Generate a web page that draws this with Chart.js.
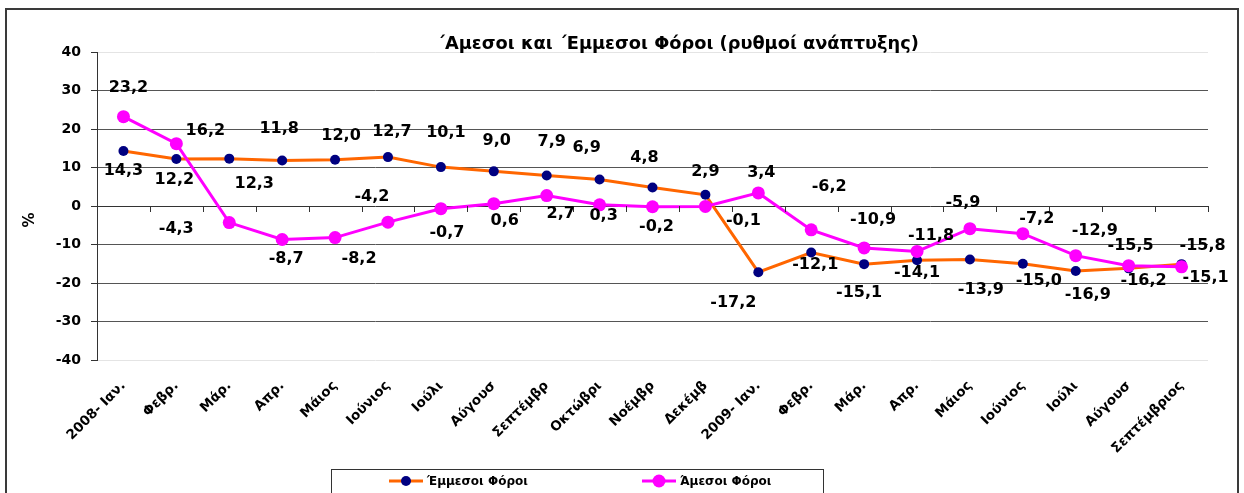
<!DOCTYPE html>
<html lang="el">
<head>
<meta charset="utf-8">
<title>Άμεσοι και Έμμεσοι Φόροι</title>
<script src="https://cdn.jsdelivr.net/npm/chart.js@4.4.1/dist/chart.umd.min.js"></script>
<style>
  html, body { margin: 0; padding: 0; background: #fff; overflow: hidden; }
  #wrap { position: absolute; left: 0; top: 0; width: 1244px; height: 493px; }
  #frame { position: absolute; left: 5px; top: 8px; width: 1230px; height: 520px; border: 2px solid #3a3a3a; pointer-events: none; }
</style>
</head>
<body>
<div id="wrap"><canvas id="taxChart"></canvas></div>
<div id="frame"></div>
<script>
// categories (x axis)
const months = ['2008- Ιαν.', 'Φεβρ.', 'Μάρ.', 'Απρ.', 'Μάιος', 'Ιούνιος', 'Ιούλι', 'Αύγουσ', 'Σεπτέμβρ', 'Οκτώβρι', 'Νοέμβρ', 'Δεκέμβ',
  '2009- Ιαν.', 'Φεβρ.', 'Μάρ.', 'Απρ.', 'Μάιος', 'Ιούνιος', 'Ιούλι', 'Αύγουσ', 'Σεπτέμβριος'];

// growth rates, %
const indirectTax = [14.3, 12.2, 12.3, 11.8, 12.0, 12.7, 10.1, 9.0, 7.9, 6.9, 4.8, 2.9,
  -17.2, -12.1, -15.1, -14.1, -13.9, -15.0, -16.9, -16.2, -15.1];
const directTax = [23.2, 16.2, -4.3, -8.7, -8.2, -4.2, -0.7, 0.6, 2.7, 0.3, -0.2, -0.1,
  3.4, -6.2, -10.9, -11.8, -5.9, -7.2, -12.9, -15.5, -15.8];

const yTicks = [-40, -30, -20, -10, 0, 10, 20, 30, 40];

// where each value label sits relative to its point (px)
const indirectLabelDx = [0, -2, 25, -3, 6, 4, 5, 3, 5, -13, -8, 0, -25, 4, -5, 0, 11, 16, 12, 15, 24];
const indirectLabelDy = [20, 21, 25, -32, -24, -25, -34, -31, -34, -32, -30, -23, 31, 12, 29, 13, 30, 17, 24, 12, 14];
const directLabelDx = [5, 29, -53, 4, 24, -16, 6, 11, 14, 4, 4, 38, 3, 18, 9, 14, -7, 14, 19, 2, 21];
const directLabelDy = [-29, -13, 6, 19, 21, -25, 24, 17, 18, 11, 20, 14, -20, -43, -28, -16, -26, -15, -25, -20, -21];

const FONT = "'DejaVu Sans', 'Verdana', sans-serif";
Chart.defaults.font.family = FONT;
Chart.defaults.color = '#000';

const fmt = v => v.toFixed(1).replace('.', ',');

const extras = {
  id: 'extras',
  afterDatasetsDraw(chart) {
    const { ctx, chartArea, scales } = chart;
    const x = scales.x, y = scales.y;
    const y0 = y.getPixelForValue(0);
    const step = (chartArea.right - chartArea.left) / months.length;

    ctx.save();
    // tick marks on the zero axis, between categories
    ctx.strokeStyle = '#333';
    ctx.lineWidth = 1;
    ctx.beginPath();
    for (let i = 0; i <= months.length; i++) {
      const px = Math.round(chartArea.left + i * step) + 0.5;
      ctx.moveTo(px, y0);
      ctx.lineTo(px, y0 + 6);
    }
    ctx.stroke();

    // value labels
    ctx.font = 'bold 16px ' + FONT;
    ctx.fillStyle = '#000';
    ctx.textAlign = 'center';
    ctx.textBaseline = 'middle';
    const sets = [[indirectTax, indirectLabelDx, indirectLabelDy], [directTax, directLabelDx, directLabelDy]];
    sets.forEach(([vals, dx, dy]) => {
      vals.forEach((v, i) => {
        ctx.fillText(fmt(v), x.getPixelForValue(i) + dx[i], y.getPixelForValue(v) + dy[i]);
      });
    });

    // title
    ctx.font = 'bold 17.8px ' + FONT;
    ctx.fillText('΄Αμεσοι και ΄Εμμεσοι Φόροι (ρυθμοί ανάπτυξης)', 678, 44);

    // y axis title
    ctx.save();
    ctx.translate(30, 220);
    ctx.rotate(-Math.PI / 2);
    ctx.font = 'bold 15px ' + FONT;
    ctx.fillText('%', 0, 0);
    ctx.restore();

    // legend
    ctx.strokeStyle = '#333';
    ctx.strokeRect(331.5, 469.5, 492, 60);
    const items = [[406, chart.data.datasets[0]], [659, chart.data.datasets[1]]];
    ctx.textAlign = 'left';
    ctx.font = 'bold 12px ' + FONT;
    items.forEach(([cx, ds]) => {
      const ly = 481;
      ctx.strokeStyle = ds.borderColor;
      ctx.lineWidth = 3;
      ctx.beginPath();
      ctx.moveTo(cx - 17, ly);
      ctx.lineTo(cx + 17, ly);
      ctx.stroke();
      ctx.fillStyle = ds.pointBackgroundColor;
      ctx.beginPath();
      ctx.arc(cx, ly, ds.pointRadius, 0, Math.PI * 2);
      ctx.fill();
      ctx.fillStyle = '#000';
      ctx.fillText(ds.label, cx + 21, ly + 1);
    });
    ctx.restore();
  }
};

new Chart(document.getElementById('taxChart'), {
  type: 'line',
  data: {
    labels: months,
    datasets: [
      {
        label: 'Έμμεσοι Φόροι',
        data: indirectTax,
        borderColor: '#FF6600',
        borderWidth: 3,
        pointBackgroundColor: '#000080',
        pointBorderColor: '#000080',
        pointBorderWidth: 0,
        pointRadius: 5,
        tension: 0,
        order: 2,
        clip: false
      },
      {
        label: 'Άμεσοι Φόροι',
        data: directTax,
        borderColor: '#FF00FF',
        borderWidth: 3,
        pointBackgroundColor: '#FF00FF',
        pointBorderColor: '#FF00FF',
        pointBorderWidth: 0,
        pointRadius: 6.5,
        tension: 0,
        order: 1,
        clip: false
      }
    ]
  },
  options: {
    responsive: true,
    maintainAspectRatio: false,
    animation: false,
    layout: { padding: { top: 52, right: 36, left: 0, bottom: 0 } },
    plugins: {
      legend: { display: false },
      title: { display: false },
      tooltip: { enabled: false }
    },
    scales: {
      x: {
        offset: true,
        grid: { display: false, drawTicks: false },
        border: { display: false },
        ticks: {
          autoSkip: false,
          maxRotation: 45,
          minRotation: 45,
          padding: 18,
          color: '#000',
          font: { size: 13.5, weight: 'bold' }
        },
        afterFit: s => { s.height = 133; }
      },
      y: {
        min: -40,
        max: 40,
        afterBuildTicks: s => { s.ticks = yTicks.map(v => ({ value: v })); },
        ticks: {
          padding: 10,
          color: '#000',
          font: { size: 14, weight: 'bold' }
        },
        grid: {
          color: c => (c.tick && Math.abs(c.tick.value) === 40) ? '#e4e4e4' : (c.tick && c.tick.value === 0 ? '#333' : '#555'),
          tickColor: '#333',
          tickLength: 6,
          lineWidth: 1
        },
        border: { color: '#333', width: 1 },
        afterFit: s => { s.width = 97; }
      }
    }
  },
  plugins: [extras]
});
</script>
</body>
</html>
